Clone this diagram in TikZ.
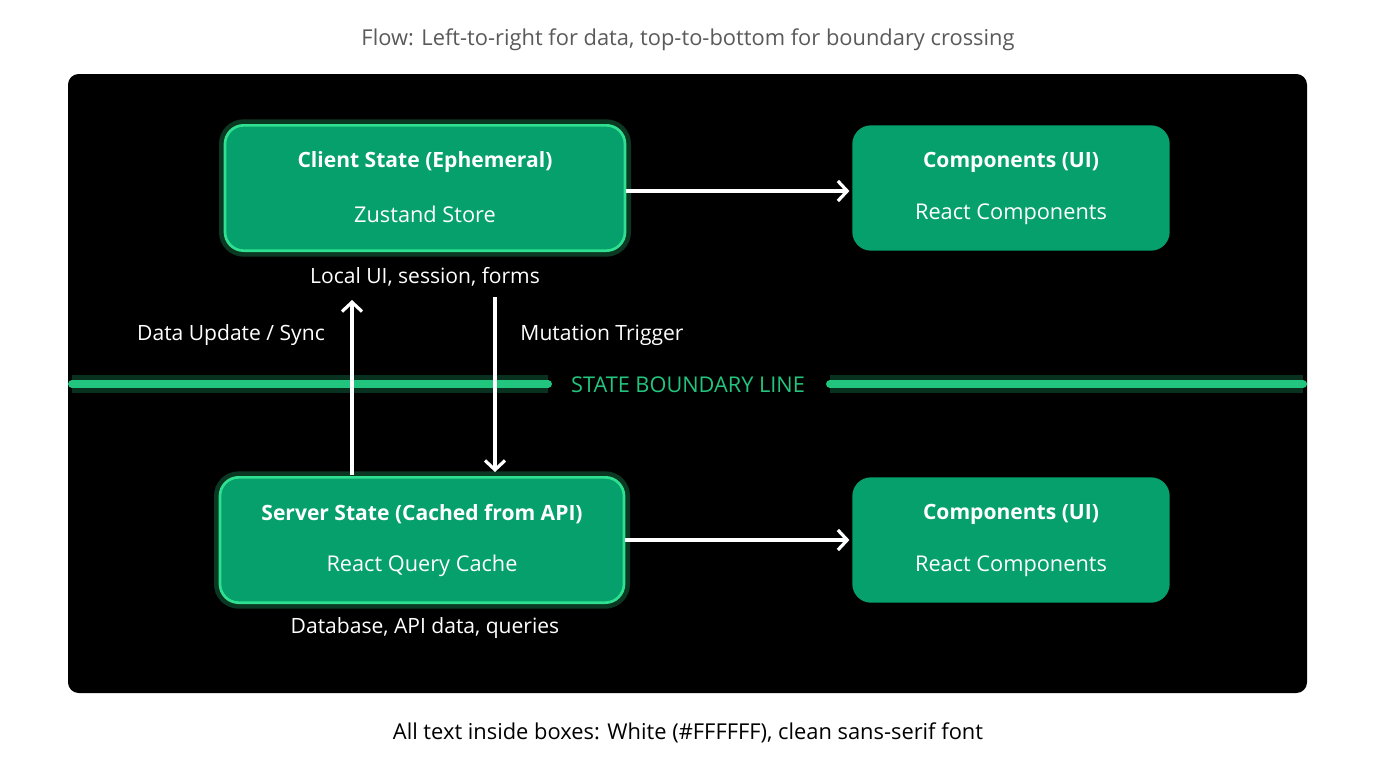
\documentclass[tikz,border=0pt]{standalone}
\usepackage{fontspec}
\setmainfont{Open Sans}
\usetikzlibrary{arrows.meta,positioning}
\definecolor{boxgreen}{HTML}{05A06C}
\definecolor{glowgreen}{HTML}{2EE08F}
\definecolor{linegreen}{HTML}{22C57E}
\definecolor{titlegray}{HTML}{5A5A5A}
\begin{document}
\begin{tikzpicture}[
  x=0.75pt, y=-0.75pt,
  statebox/.style={rectangle, rounded corners=14pt, fill=boxgreen, minimum width=300pt, minimum height=94pt},
  uibox/.style={rectangle, rounded corners=14pt, fill=boxgreen, minimum width=238pt, minimum height=94pt},
  glow/.style={draw=glowgreen, line width=2pt, preaction={draw=glowgreen, draw opacity=0.25, line width=9pt}},
  boxtitle/.style={text=white, font=\bfseries\fontsize{15.8}{19}\selectfont},
  boxsub/.style={text=white, font=\fontsize{16.3}{19}\selectfont},
  note/.style={text=white, font=\fontsize{15.8}{19}\selectfont},
  arrow/.style={-{Straight Barb[length=7pt,width=15pt,line width=2.4pt]}, white, line width=2.6pt, line cap=butt},
  boundary/.style={linegreen, line width=6pt, line cap=round, preaction={draw=linegreen, draw opacity=0.25, line width=14pt}}
]
\fill[white] (0,0) rectangle (1376,768);
\fill[black, rounded corners=8pt] (68,74) rectangle (1307,693);

% Captions
\node[text=titlegray, font=\fontsize{16.4}{19}\selectfont] (title) at (688,40) {Flow: Left-to-right for data, top-to-bottom for boundary crossing};
\node[text=black, font=\fontsize{16.4}{19}\selectfont] (caption) at (688,733) {All text inside boxes: White (\#FFFFFF), clean sans-serif font};

% State boundary
\coordinate (bl1) at (72,384);
\coordinate (bl2) at (548,384);
\coordinate (br1) at (830,384);
\coordinate (br2) at (1303,384);
\draw[boundary] (bl1) -- (bl2);
\draw[boundary] (br1) -- (br2);
\node[text=linegreen, font=\fontsize{16.3}{19}\selectfont] (boundlabel) at (688,385) {STATE BOUNDARY LINE};

% Client side
\node[statebox, glow] (client) at (425,188) {};
\node[boxtitle] at (425,162) {Client State (Ephemeral)};
\node[boxsub] at (425,214) {Zustand Store};
\node[note] (clientnote) at (425,277) {Local UI, session, forms};
\node[uibox] (ui1) at (1011,188) {};
\node[boxtitle] at (1011,162) {Components (UI)};
\node[boxsub] at (1011,214) {React Components};

% Server side
\node[statebox, glow, minimum width=303pt] (server) at (422,540) {};
\node[boxtitle] at (422,514) {Server State (Cached from API)};
\node[boxsub] at (422,566) {React Query Cache};
\node[note] (servernote) at (425,628) {Database, API data, queries};
\node[uibox] (ui2) at (1011,540) {};
\node[boxtitle] at (1011,514) {Components (UI)};
\node[boxsub] at (1011,566) {React Components};

% Connectors
\coordinate (upbot) at (352,475);
\coordinate (uptop) at (352,300);
\coordinate (dntop) at (495,297);
\coordinate (dnbot) at (495,472);
\draw[arrow] (client.east |- 0,191) -- ([xshift=-2pt]ui1.west |- 0,191);
\draw[arrow] (server.east |- 0,540) -- ([xshift=-2pt]ui2.west |- 0,540);
\draw[arrow] (upbot) -- (uptop);
\draw[arrow] (dntop) -- (dnbot);
\node[note] (synclabel) at (231,335) {Data Update / Sync};
\node[note] (mutlabel) at (602,335) {Mutation Trigger};
\end{tikzpicture}
\end{document}
